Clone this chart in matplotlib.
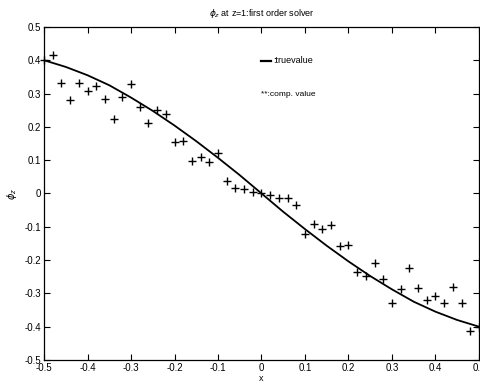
import numpy as np
from matplotlib import pyplot as plt

plt.rcParams['font.family'] = ['Liberation Sans', 'DejaVu Sans']

# computed values, x from -0.5 to 0.5 in steps of 0.02
comp_x = np.linspace(-0.5, 0.5, 51)
comp_y = [0.402, 0.415, 0.332, 0.282, 0.332, 0.308, 0.322, 0.283, 0.225, 0.290,
          0.328, 0.260, 0.211, 0.250, 0.238, 0.155, 0.158, 0.097, 0.108, 0.094,
          0.123, 0.037, 0.016, 0.014, 0.003, 0.000, -0.004, -0.013, -0.013, -0.035,
          -0.122, -0.092, -0.107, -0.096, -0.158, -0.154, -0.235, -0.248, -0.209, -0.257,
          -0.328, -0.288, -0.224, -0.283, -0.320, -0.308, -0.329, -0.281, -0.329, -0.412,
          -0.402]

# true value curve
true_x = [-0.5, -0.45, -0.4, -0.35, -0.3, -0.25, -0.2, -0.15, -0.1, -0.05, 0.0,
          0.05, 0.1, 0.15, 0.2, 0.25, 0.3, 0.35, 0.4, 0.45, 0.5]
true_y = [0.400, 0.380, 0.355, 0.325, 0.288, 0.248, 0.204, 0.157, 0.107, 0.055, 0.0,
          -0.055, -0.107, -0.157, -0.204, -0.248, -0.288, -0.325, -0.355, -0.380, -0.400]

fig = plt.figure(figsize=(4.81, 3.85), dpi=100)
ax = fig.add_axes([0.0915, 0.065, 0.9043, 0.865])

ax.plot(true_x, true_y, color='black', lw=1.3)
ax.scatter(comp_x, comp_y, marker='+', color='black', s=28, linewidths=1.0,
           clip_on=False, zorder=3)

ax.set_xlim(-0.5, 0.5)
ax.set_ylim(-0.5, 0.5)
ticks = np.round(np.arange(-0.5, 0.51, 0.1), 1)
tick_labels = ['-0.5', '-0.4', '-0.3', '-0.2', '-0.1', '0', '0.1', '0.2', '0.3', '0.4', '0.5']
ax.set_xticks(ticks)
ax.set_yticks(ticks)
ax.set_xticklabels(tick_labels)
ax.set_yticklabels(tick_labels)
ax.tick_params(direction='in', length=4, width=0.8, labelsize=7, top=True, right=True, pad=2)

ax.set_xlabel('x', fontsize=6.5, labelpad=1)
ax.set_ylabel(r'$\phi_z$', fontsize=7, labelpad=4)
ax.set_title(r'$\phi_z$ at z=1:first order solver', fontsize=6.5, pad=8)

# legend text as in the original
ax.plot([0.0, 0.022], [0.398, 0.398], color='black', lw=1.6)
ax.text(0.027, 0.398, ':truevalue', fontsize=6.5, va='center', ha='left')
ax.text(0.0, 0.297, '**:comp. value', fontsize=6, va='center', ha='left')

for s in ax.spines.values():
    s.set_linewidth(0.9)

plt.savefig('out.png', dpi=100)
